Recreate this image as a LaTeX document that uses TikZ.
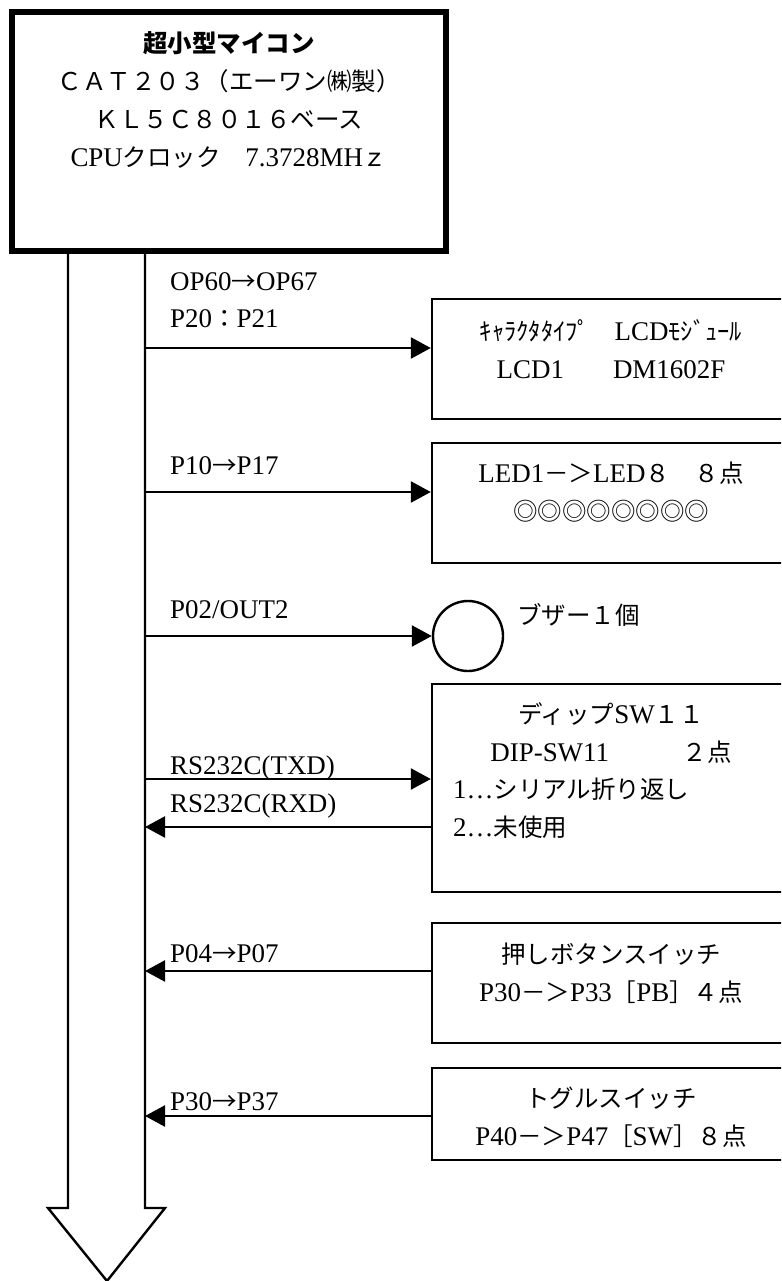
\documentclass[tikz,border=0pt]{standalone}
\usepackage{fontspec}
\setmainfont{Liberation Serif}[Scale=1.1]
\newfontfamily\jpfont{Noto Sans CJK JP}
\newcommand{\ja}[1]{{\jpfont #1}}
\usetikzlibrary{arrows.meta,positioning}
\tikzset{
  unit/.style={draw, line width=2.4pt, minimum width=358pt, inner sep=0pt},
  txt/.style={font=\fontsize{24.5}{38}\selectfont, align=center, inner sep=0pt},
  lbl/.style={font=\fontsize{24.5}{30}\selectfont, anchor=west, inner sep=0pt},
  sig/.style={line width=2.4pt, -{Triangle[length=20pt,width=21pt]}},
}

\begin{document}
\begin{tikzpicture}[x=1pt,y=-1pt]
  \path[use as bounding box, clip] (0,0) rectangle (781,1281);
  % bus arrow
  \draw[line width=2.4pt] (68,251) -- (68,1208) -- (48,1208) -- (107,1281) -- (165,1208) -- (145,1208) -- (145,251);
  \node[draw, line width=6pt, fill=white, minimum width=434pt, minimum height=239pt, inner sep=0pt] (cpu) at (229,131.5) {};
  \node[txt] (cput) at (229,100) {\textbf{\ja{超小型マイコン}}\\
    \ja{ＣＡＴ２０３（エーワン㈱製）}\\
    \ja{ＫＬ５Ｃ８０１６ベース}\\
    CPU\ja{クロック　}7.3728MH\ja{ｚ}};
  % units
  \node[unit, minimum height=120pt] (lcd) at (611,359) {};
  \node[txt] at (611,349) {\ja{ｷｬﾗｸﾀﾀｲﾌﾟ　}LCD\ja{ﾓｼﾞｭｰﾙ}\\LCD1\ja{　　}DM1602F};
  \node[unit, minimum height=120pt] (led) at (611,503) {};
  \node[txt] at (611,492) {LED1\ja{－＞}LED\ja{８　８点}\\\ja{◎◎◎◎◎◎◎◎}};
  \node[draw, circle, line width=2.4pt, minimum size=70pt, inner sep=0pt] (bz) at (468,636) {};
  \node[lbl] at (517,615) {\ja{ブザー１個}};
  \node[unit, minimum height=208pt] (dip) at (611,788) {};
  \node[txt] at (611,733) {\ja{ディップ}SW\ja{１１}\\DIP-SW11\ja{　　　２点}};
  \node[txt, align=left, anchor=west] at (453,808) {1…\ja{シリアル折り返し}\\2…\ja{未使用}};
  \node[unit, minimum height=120pt] (pb) at (611,983) {};
  \node[txt] at (611,973) {\ja{押しボタンスイッチ}\\P30\ja{－＞}P33\ja{［}PB\ja{］４点}};
  \node[unit, minimum height=92pt] (tg) at (611,1114) {};
  \node[txt] at (611,1117) {\ja{トグルスイッチ}\\P40\ja{－＞}P47\ja{［}SW\ja{］８点}};
  % port labels
  \node[lbl] at (170,282) {OP60\ja{→}OP67};
  \node[lbl] at (170,319) {P20\ja{：}P21};
  \node[lbl] at (170,466) {P10\ja{→}P17};
  \node[lbl] at (170,610) {P02/OUT2};
  \node[lbl] at (170,768) {RS232C(TXD)};
  \node[lbl] at (170,806) {RS232C(RXD)};
  \node[lbl] at (170,954) {P04\ja{→}P07};
  \node[lbl] at (170,1102) {P30\ja{→}P37};
  % signals
  \coordinate (s1) at (145,348);
  \coordinate (s2) at (145,492);
  \coordinate (s3) at (145,636);
  \coordinate (s4) at (145,779);
  \coordinate (s5) at (145,827);
  \coordinate (s6) at (145,971);
  \coordinate (s7) at (145,1116);
  \draw[sig] (s1) -- (s1 -| lcd.west);
  \draw[sig] (s2) -- (s2 -| led.west);
  \draw[sig] (s3) -- (bz.west);
  \draw[sig] (s4) -- (s4 -| dip.west);
  \draw[sig] (s5 -| dip.west) -- (s5);
  \draw[sig] (s6 -| pb.west) -- (s6);
  \draw[sig] (s7 -| tg.west) -- (s7);
\end{tikzpicture}
\end{document}
